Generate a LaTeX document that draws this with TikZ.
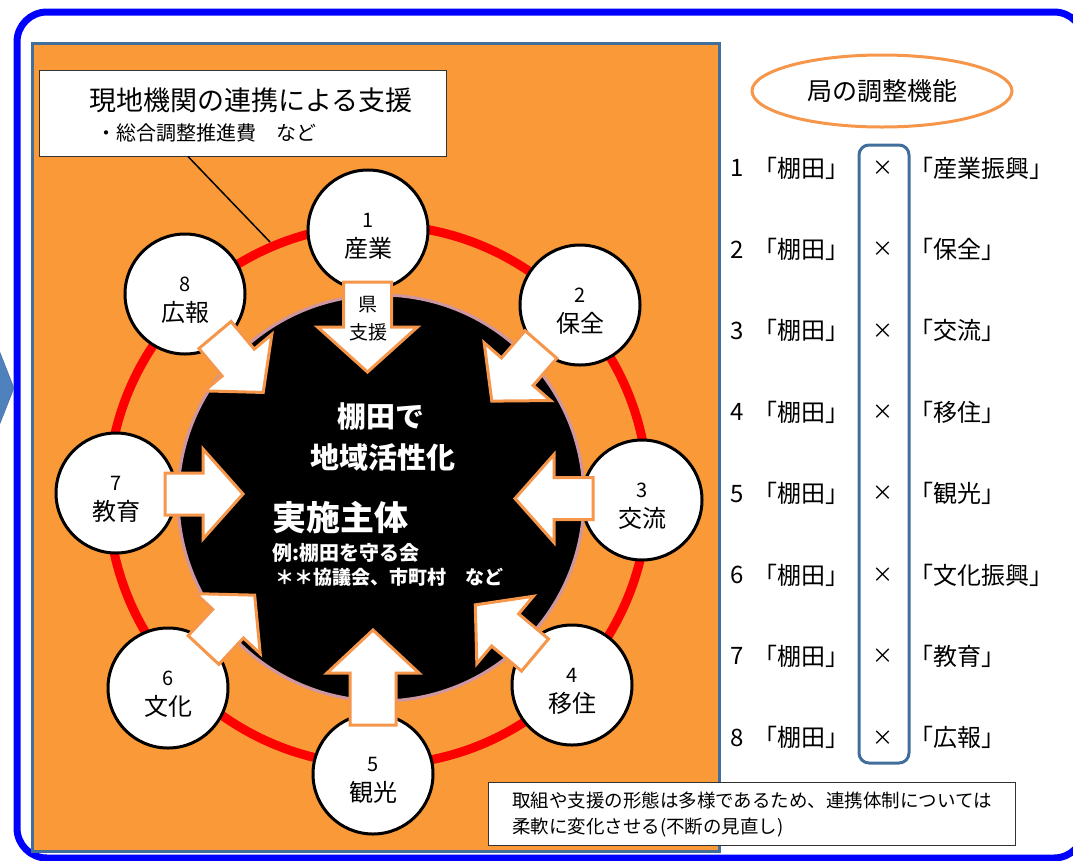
\documentclass[tikz,border=0pt]{standalone}
\usepackage{fontspec}
\setmainfont{Noto Sans CJK JP}
\usetikzlibrary{positioning, calc, shapes.geometric}

\definecolor{panelorange}{RGB}{249,153,55}
\definecolor{arroworange}{RGB}{245,150,75}
\definecolor{framegray}{RGB}{65,110,155}
\definecolor{hubrim}{RGB}{205,150,160}
\definecolor{tabblue}{RGB}{79,129,189}

\newcommand{\fs}[1]{\fontsize{#1}{1.2\dimexpr#1pt\relax}\selectfont}

\begin{document}
\begin{tikzpicture}[x=1pt, y=-1pt,
	topic/.style={draw, circle, line width=3, fill=white, minimum size=120, inner sep=0, align=center, font=\fontsize{24}{30}\selectfont},
	barrow/.style={draw=arroworange, line width=3, fill=white, line join=miter},
	hubtext/.style={text=white, font=\bfseries},
	rowtext/.style={font=\fontsize{24}{28}\selectfont, inner sep=0}]

	\useasboundingbox (0,0) rectangle (1073,860);
	\clip (0,0) rectangle (1073,860);

	% frame, tab and panel
	\draw[line width=7, blue, rounded corners=30] (17,12) rectangle (1084,858);
	\draw[fill=tabblue, draw=tabblue!80!black] (-12,322) -- (14,388) -- (-12,454) -- cycle;
	\draw[fill=panelorange, draw=framegray, line width=3] (32,43) rectangle (719,851);

	% support box
	\node[draw=black!80, fill=white, line width=1, minimum width=407, minimum height=86] (support) at (242.5,113) {};
	\node[anchor=west, font=\fs{27}] (supporttitle) at (86,100) {現地機関の連携による支援};
	\node[anchor=west, font=\fs{20}] (supportnote) at (93,133) {・総合調整推進費　など};
	\coordinate (ringtouch) at (270,242);
	\draw[line width=1.5] ([xshift=-54.5pt]support.south) -- (ringtouch);

	% ring and hub
	\draw[red, line width=9] (378,495) circle (270);
	\node[circle, fill=black, draw=hubrim, line width=3, minimum size=406] (hub) at (381,498) {};

	\foreach \position/\name [count=\count] in {(368,230)/産業, (580,305)/保全, (642,500)/交流, (572,685)/移住, (373,774)/観光, (168,688)/文化, (116,493)/教育, (185,294)/広報}
	{
		\node[topic] (\count) at \position {{\fs{20}\rule{0pt}{27pt}\count}\\\name};
	}

	% block arrows into the hub
	\foreach \x/\y/\ang/\len/\sh/\hw/\hl in {367.5/282/-90/90/24/50/45, 541/344.5/-131/75/21/44/39, 593/498.5/180/78/21/44/39, 535/655/140/78/21/44/39, 373/725/90/95/23/46/43, 203.5/650/47/75/21/44/39, 165/494/0/78/21/45/40, 215/335/-50/75/21/44/39}
	{
		\draw[barrow, shift={(\x,\y)}, rotate=\ang] (0,-\sh) -- ({\len-\hl},-\sh) -- ({\len-\hl},-\hw) -- (\len,0) -- ({\len-\hl},\hw) -- ({\len-\hl},\sh) -- (0,\sh) -- cycle;
	}
	\node[font=\fs{19}, inner sep=0] (ken) at (368,305) {県};
	\node[font=\fs{19}, inner sep=0] (shien) at (368,332) {支援};

	\node[hubtext, font=\bfseries\fs{29}] (goal1) at (381,417) {棚田で};
	\node[hubtext, font=\bfseries\fs{29}] (goal2) at (383,457) {地域活性化};
	\node[hubtext, font=\bfseries\fs{34}, anchor=west, inner sep=0] (actor) at (272,518) {実施主体};
	\node[hubtext, font=\bfseries\fs{20}, anchor=west, inner sep=0] (actor1) at (272,553) {例:棚田を守る会};
	\node[hubtext, font=\bfseries\fs{19}, anchor=west, inner sep=0] (actor2) at (275,577) {＊＊協議会、市町村　など};

	% bureau side
	\node[ellipse, draw=arroworange, line width=3, fill=white, minimum width=260, minimum height=72, font=\fs{25}] (bureau) at (882,91) {局の調整機能};
	\node[draw=framegray, line width=3, rounded corners=10, minimum width=50, minimum height=618] (xcol) at (884,454) {};

	\foreach \name [count=\n] in {産業振興, 保全, 交流, 移住, 観光, 文化振興, 教育, 広報}
	{
		\node[rowtext] (num\n) at (737,{168+(\n-1)*81.4}) {\n};
		\node[rowtext] (tana\n) at (801,{168+(\n-1)*81.4}) {「棚田」};
		\node[rowtext, font=\fs{21}] (times\n) at (883,{168+(\n-1)*81.4}) {×};
		\node[rowtext, anchor=west] (theme\n) at (909,{168+(\n-1)*81.4}) {「\name」};
	}

	\node[draw=black!80, fill=white, line width=1, minimum width=527, minimum height=63, align=left, inner xsep=14, anchor=north west, font=\fontsize{18.5}{26}\selectfont] (note) at (488,782) {取組や支援の形態は多様であるため、連携体制については\\柔軟に変化させる(不断の見直し)};

\end{tikzpicture}
\end{document}
